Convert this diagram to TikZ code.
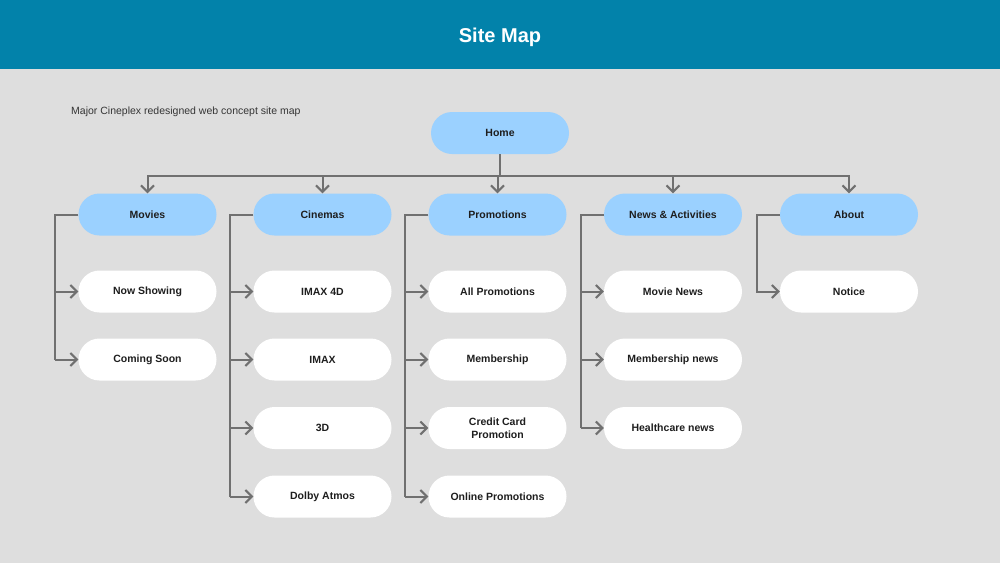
\documentclass[tikz,border=0pt]{standalone}
\usepackage{fontspec}
\setmainfont{Liberation Sans}
\definecolor{header}{RGB}{2,130,170}
\definecolor{paper}{RGB}{222,222,222}
\definecolor{sky}{RGB}{155,209,255}
\definecolor{wire}{RGB}{112,112,112}
\definecolor{ink}{RGB}{30,30,30}
\usetikzlibrary{arrows.meta,positioning}

\tikzset{
  pill/.style={rectangle, rounded corners=21pt, minimum width=138pt, minimum height=42pt,
    inner sep=0pt, font=\fontsize{10.5}{13.5}\selectfont\bfseries, text=ink, align=center},
  section/.style={pill, fill=sky},
  page/.style={pill, fill=white},
  link/.style={wire, line width=2pt},
  linkto/.style={link, -{Straight Barb[length=6.5pt, width=13pt, line width=2pt]}}
}

\begin{document}
\begin{tikzpicture}[x=1pt, y=-1pt]
        \useasboundingbox (0,0) rectangle (1000,563);
        \fill[paper] (0,0) rectangle (1000,563);
        \fill[header] (0,0) rectangle (1000,69);
        \node[font=\fontsize{20}{24}\selectfont\bfseries, text=white] (title) at (500,37) {Site Map};
        \node[anchor=west, font=\fontsize{10.5}{12}\selectfont, text=ink!90, inner sep=0pt] (subtitle) at (71,112)
          {Major Cineplex redesigned web concept site map};
        % top level
        \node[section] (home) at (500,133) {Home};
        \node[section] (movies) at (147.5,214.5) {Movies};
        \node[section] (cinemas) at (322.5,214.5) {Cinemas};
        \node[section] (promotions) at (497.5,214.5) {Promotions};
        \node[section] (news) at (673,214.5) {News \& Activities};
        \node[section] (about) at (849,214.5) {About};
        % pages
        \node[page] (nowshowing) at (147.5,291.5) {Now Showing};
        \node[page] (comingsoon) at (147.5,359.5) {Coming Soon};
        \node[page] (imaxfourd) at (322.5,291.5) {IMAX 4D};
        \node[page] (imax) at (322.5,359.5) {IMAX};
        \node[page] (threed) at (322.5,428) {3D};
        \node[page] (dolby) at (322.5,496.5) {Dolby Atmos};
        \node[page] (allpromo) at (497.5,291.5) {All Promotions};
        \node[page] (membership) at (497.5,359.5) {Membership};
        \node[page] (creditcard) at (497.5,428) {Credit Card\\Promotion};
        \node[page] (onlinepromo) at (497.5,496.5) {Online Promotions};
        \node[page] (movienews) at (673,291.5) {Movie News};
        \node[page] (membernews) at (673,359.5) {Membership news};
        \node[page] (healthnews) at (673,428) {Healthcare news};
        \node[page] (notice) at (849,291.5) {Notice};
        % home to sections
        \coordinate (bus) at (500,176);
        \draw[link] (home.south) -- (bus);
        \draw[linkto] (bus) -| (movies.north);
        \draw[linkto] (bus) -| (cinemas.north);
        \draw[linkto] (bus) -| (promotions.north);
        \draw[linkto] (bus) -| (news.north);
        \draw[linkto] (bus) -| (about.north);
        % sections to pages
        \coordinate (moviesrail) at ([xshift=-23pt]movies.west);
        \draw[link] (movies.west) -- (moviesrail) -- (moviesrail |- comingsoon.west);
        \draw[linkto] (moviesrail |- nowshowing.west) -- (nowshowing.west);
        \draw[linkto] (moviesrail |- comingsoon.west) -- (comingsoon.west);
        \coordinate (cinemasrail) at ([xshift=-23pt]cinemas.west);
        \draw[link] (cinemas.west) -- (cinemasrail) -- (cinemasrail |- dolby.west);
        \draw[linkto] (cinemasrail |- imaxfourd.west) -- (imaxfourd.west);
        \draw[linkto] (cinemasrail |- imax.west) -- (imax.west);
        \draw[linkto] (cinemasrail |- threed.west) -- (threed.west);
        \draw[linkto] (cinemasrail |- dolby.west) -- (dolby.west);
        \coordinate (promorail) at ([xshift=-23pt]promotions.west);
        \draw[link] (promotions.west) -- (promorail) -- (promorail |- onlinepromo.west);
        \draw[linkto] (promorail |- allpromo.west) -- (allpromo.west);
        \draw[linkto] (promorail |- membership.west) -- (membership.west);
        \draw[linkto] (promorail |- creditcard.west) -- (creditcard.west);
        \draw[linkto] (promorail |- onlinepromo.west) -- (onlinepromo.west);
        \coordinate (newsrail) at ([xshift=-23pt]news.west);
        \draw[link] (news.west) -- (newsrail) -- (newsrail |- healthnews.west);
        \draw[linkto] (newsrail |- movienews.west) -- (movienews.west);
        \draw[linkto] (newsrail |- membernews.west) -- (membernews.west);
        \draw[linkto] (newsrail |- healthnews.west) -- (healthnews.west);
        \coordinate (aboutrail) at ([xshift=-23pt]about.west);
        \draw[linkto] (about.west) -- (aboutrail) |- (notice.west);
      \end{tikzpicture}
\end{document}
